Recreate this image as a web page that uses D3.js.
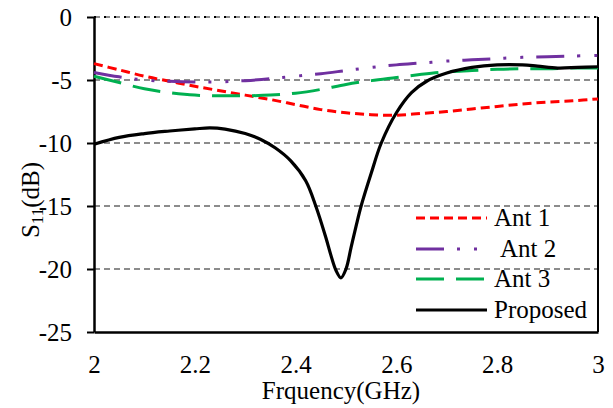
<!DOCTYPE html>
<html>
<head>
<meta charset="utf-8">
<script src="https://cdn.jsdelivr.net/npm/d3@7"></script>
<style>
  body { margin: 0; background: #fff; }
</style>
</head>
<body>
<div id="chart"></div>
<script>
// frequency (GHz) and S11 (dB)
const freqA = [2.0, 2.05, 2.1, 2.15, 2.2, 2.25, 2.3, 2.35, 2.4, 2.45, 2.5, 2.55, 2.6, 2.65, 2.7, 2.75, 2.8, 2.85, 2.9, 2.95, 3.0];
const ant1 = [-3.7, -4.2, -4.7, -5.1, -5.5, -5.85, -6.2, -6.55, -6.95, -7.35, -7.6, -7.75, -7.8, -7.65, -7.5, -7.3, -7.1, -6.9, -6.75, -6.65, -6.5];
const ant2 = [-4.4, -4.75, -5.0, -5.1, -5.15, -5.15, -5.05, -4.9, -4.7, -4.5, -4.25, -4.0, -3.8, -3.65, -3.5, -3.4, -3.3, -3.2, -3.15, -3.1, -3.05];
const ant3 = [-4.7, -5.2, -5.7, -6.0, -6.2, -6.25, -6.25, -6.2, -6.05, -5.75, -5.35, -5.05, -4.8, -4.55, -4.35, -4.25, -4.15, -4.1, -4.1, -4.05, -4.05];

const freqP = [2.0, 2.05, 2.1, 2.15, 2.2, 2.23, 2.26, 2.3, 2.33, 2.36, 2.39, 2.42, 2.44, 2.46, 2.47, 2.48, 2.49, 2.5, 2.51, 2.52, 2.53, 2.55, 2.57, 2.6, 2.63, 2.66, 2.7, 2.75, 2.8, 2.85, 2.88, 2.92, 2.96, 3.0];
const proposed = [-10.1, -9.55, -9.25, -9.05, -8.88, -8.8, -8.9, -9.25, -9.7, -10.4, -11.4, -13.0, -15.0, -17.5, -18.9, -20.1, -20.7, -20.0, -18.3, -16.6, -15.0, -12.4, -10.0, -7.6, -6.0, -5.1, -4.45, -4.0, -3.8, -3.8, -3.9, -4.05, -4.0, -3.95];

const xTicks = [2, 2.2, 2.4, 2.6, 2.8, 3];
const yTicks = [0, -5, -10, -15, -20, -25];

const seriesNames = ['Ant 1', 'Ant 2', 'Ant 3', 'Proposed'];

const FONT = '"Liberation Serif", "Times New Roman", serif';
const width = 613, height = 408;
const margin = {left: 94, right: 15, top: 17, bottom: 76};

const svg = d3.select('#chart').append('svg')
  .attr('width', width)
  .attr('height', height);

const x = d3.scaleLinear().domain([2, 3]).range([margin.left, width - margin.right]);
const y = d3.scaleLinear().domain([-25, 0]).range([height - margin.bottom, margin.top]);

// dashed grey gridlines
svg.append('g')
  .selectAll('line')
  .data(yTicks.filter(d => d > -25))
  .enter().append('line')
  .attr('x1', x(2)).attr('x2', x(3))
  .attr('y1', d => y(d)).attr('y2', d => y(d))
  .attr('stroke', '#8c8c8c')
  .attr('stroke-width', 2)
  .attr('stroke-dasharray', '6,4');

// top border is dotted
svg.append('line')
  .attr('x1', x(2)).attr('x2', x(3))
  .attr('y1', y(0)).attr('y2', y(0))
  .attr('stroke', '#000')
  .attr('stroke-width', 2)
  .attr('stroke-dasharray', '2,8');

// right border
svg.append('line')
  .attr('x1', x(3)).attr('x2', x(3))
  .attr('y1', y(0)).attr('y2', y(-25))
  .attr('stroke', '#000')
  .attr('stroke-width', 2);

const yAxis = svg.append('g')
  .attr('transform', `translate(${x(2)},0)`)
  .call(d3.axisLeft(y).tickValues(yTicks).tickFormat(d => String(d)).tickSize(7).tickSizeOuter(0).tickPadding(15));
yAxis.select('.domain').attr('stroke-width', 2.5);
yAxis.selectAll('.tick line').attr('stroke-width', 2);
yAxis.selectAll('text')
  .style('font-family', FONT).style('font-size', '25px').attr('dy', '0.33em');

const xAxis = svg.append('g')
  .attr('transform', `translate(0,${y(-25)})`)
  .call(d3.axisBottom(x).tickValues(xTicks).tickFormat(d => String(d)).tickSize(0).tickSizeOuter(0).tickPadding(23));
xAxis.select('.domain').attr('stroke-width', 2.5);
xAxis.selectAll('text')
  .style('font-family', FONT).style('font-size', '25px');

// series lines
const styles = [
  {color: '#ff0000', dash: '9,5', w: 3},
  {color: '#7030a0', dash: '28,13,3,14,3,13', w: 3},
  {color: '#00b050', dash: '28,12', w: 3},
  {color: '#000000', dash: null, w: 3.2}
];
const seriesData = [
  freqA.map((f, i) => [f, ant1[i]]),
  freqA.map((f, i) => [f, ant2[i]]),
  freqA.map((f, i) => [f, ant3[i]]),
  freqP.map((f, i) => [f, proposed[i]])
];

const line = d3.line()
  .x(d => x(d[0]))
  .y(d => y(d[1]))
  .curve(d3.curveCatmullRom.alpha(0.5));

seriesData.forEach((data, i) => {
  svg.append('path')
    .datum(data)
    .attr('fill', 'none')
    .attr('stroke', styles[i].color)
    .attr('stroke-width', styles[i].w)
    .attr('stroke-dasharray', styles[i].dash)
    .attr('d', line);
});

// legend
const legendY = [218, 249, 279, 310];
const legend = svg.append('g');
seriesNames.forEach((name, i) => {
  legend.append('line')
    .attr('x1', 416).attr('x2', 487)
    .attr('y1', legendY[i]).attr('y2', legendY[i])
    .attr('stroke', styles[i].color)
    .attr('stroke-width', styles[i].w)
    .attr('stroke-dasharray', styles[i].dash);
  legend.append('text')
    .attr('x', i === 1 ? 500 : 494)
    .attr('y', legendY[i])
    .attr('dy', '0.33em')
    .style('font-family', FONT)
    .style('font-size', '25px')
    .text(name);
});

// axis titles
svg.append('text')
  .attr('x', 341)
  .attr('y', 399)
  .attr('text-anchor', 'middle')
  .style('font-family', FONT)
  .style('font-size', '25px')
  .text('Frquency(GHz)');

const yTitle = svg.append('text')
  .attr('transform', 'translate(39,200) rotate(-90)')
  .attr('text-anchor', 'middle')
  .style('font-family', FONT)
  .style('font-size', '25px');
yTitle.append('tspan').text('S');
yTitle.append('tspan').attr('baseline-shift', '-25%').style('font-size', '17px').text('11');
yTitle.append('tspan').text('(dB)');
</script>
</body>
</html>
